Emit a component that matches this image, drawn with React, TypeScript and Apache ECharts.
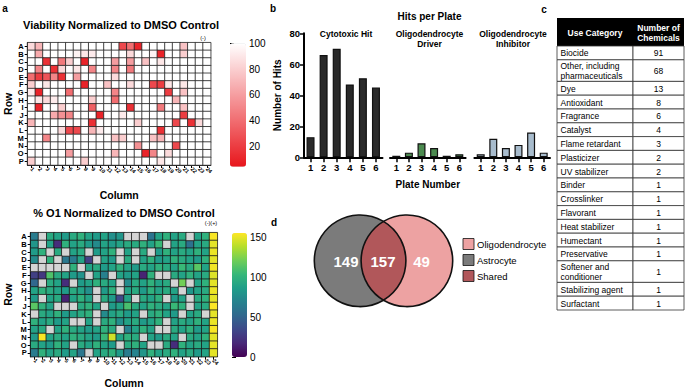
import React, { useEffect, useRef } from 'react';
import * as echarts from 'echarts';

const FONT = '"Liberation Sans", Arial, Helvetica, sans-serif';

// ---------- panel a : plate heatmaps ----------
const rowLabels = ['A', 'B', 'C', 'D', 'E', 'F', 'G', 'H', 'I', 'J', 'K', 'L', 'M', 'N', 'O', 'P'];
const columnLabels = ['1', '2', '3', '4', '5', '6', '7', '8', '9', '10', '11', '12', '13', '14', '15', '16', '17', '18', '19', '20', '21', '22', '23', '24'];

const viability = [
  [85, 70, 100, 100, 100, 100, 100, 100, 100, 100, 100, 100, 25, 40, 10, 100, 100, 100, 100, 100, 75, 100, 100, 100],
  [100, 65, 100, 100, 100, 100, 95, 90, 92, 100, 100, 100, 100, 85, 100, 100, 95, 10, 100, 100, 80, 100, 100, 100],
  [100, 100, 15, 100, 45, 80, 100, 10, 100, 100, 100, 60, 100, 60, 100, 75, 100, 90, 100, 100, 100, 100, 100, 100],
  [100, 50, 100, 15, 85, 100, 90, 100, 50, 100, 100, 50, 100, 45, 100, 100, 100, 100, 100, 100, 100, 100, 100, 100],
  [40, 20, 30, 50, 15, 100, 60, 100, 100, 100, 100, 85, 100, 100, 100, 100, 100, 100, 100, 100, 100, 100, 100, 100],
  [80, 100, 90, 100, 100, 100, 100, 10, 100, 100, 75, 100, 100, 85, 100, 100, 25, 20, 90, 100, 90, 100, 100, 100],
  [92, 10, 100, 100, 100, 40, 100, 100, 100, 100, 100, 50, 100, 100, 100, 100, 100, 100, 20, 100, 75, 100, 100, 100],
  [100, 90, 85, 92, 100, 100, 100, 100, 80, 100, 100, 40, 100, 100, 100, 100, 100, 100, 100, 70, 100, 100, 100, 100],
  [100, 10, 100, 100, 80, 100, 100, 100, 35, 100, 100, 100, 100, 15, 100, 100, 100, 45, 100, 100, 75, 100, 100, 100],
  [100, 100, 100, 65, 55, 50, 100, 100, 100, 10, 100, 100, 92, 100, 100, 100, 100, 100, 100, 100, 20, 100, 100, 100],
  [70, 100, 100, 100, 100, 100, 100, 100, 15, 100, 100, 100, 100, 100, 80, 100, 100, 100, 100, 25, 100, 15, 85, 100],
  [100, 100, 100, 100, 85, 25, 25, 100, 70, 92, 100, 100, 100, 100, 100, 100, 100, 15, 100, 100, 100, 100, 100, 100],
  [100, 100, 50, 100, 100, 100, 100, 100, 100, 100, 100, 75, 80, 100, 100, 100, 75, 70, 100, 100, 100, 100, 100, 100],
  [100, 100, 100, 100, 100, 100, 100, 100, 100, 100, 100, 100, 100, 100, 55, 100, 100, 100, 100, 25, 100, 100, 100, 100],
  [100, 100, 100, 100, 100, 60, 100, 100, 100, 100, 100, 70, 100, 100, 100, 10, 50, 100, 85, 100, 100, 100, 100, 100],
  [80, 100, 100, 100, 100, 100, 100, 80, 100, 100, 100, 100, 100, 100, 100, 100, 100, 90, 100, 100, 100, 100, 100, 100],
];

const o1Percent = [
  [65, null, 95, 90, 85, 95, 100, 90, 85, 90, 78, 82, null, null, null, 60, 90, 100, 90, 95, null, 90, 100, 155],
  [82, null, 90, 20, 100, 90, 95, 85, 75, 90, 85, 90, 95, 95, 100, 90, 105, null, 90, 95, 58, 90, 95, 150],
  [85, 100, null, 95, null, 90, 95, null, 85, 90, 100, null, 90, null, 95, null, 85, 100, 90, 95, 90, 100, 90, 152],
  [75, null, 100, null, 62, 66, 90, 30, null, 90, 85, null, 95, null, 90, 100, 85, 90, 100, 95, 90, 85, 100, 150],
  [null, null, null, null, null, 100, null, 90, 95, 85, 90, 100, 90, 85, 95, 90, 100, 95, 90, 105, 95, 115, 90, 153],
  [30, 25, 112, 95, 90, 85, 80, null, 90, 68, null, 90, 85, 90, 15, 100, null, null, 95, 90, 100, 90, 95, 148],
  [52, null, 95, 90, 20, null, 85, 90, 100, 95, 90, null, 75, 95, 90, 100, 90, 95, null, 122, null, 90, 100, 150],
  [90, 100, 95, 90, 85, 95, 90, 78, null, 85, 100, null, 90, 95, 85, 100, 90, 95, 90, null, 82, 90, 95, 152],
  [85, null, 90, 95, 15, 90, 100, 90, null, 95, 85, 35, 90, null, 95, 90, 100, null, 85, 90, null, 95, 100, 150],
  [115, 100, 90, null, null, null, 95, 100, 90, null, 85, 90, 110, 95, 90, 100, 95, 90, 105, 100, null, 90, 95, 158],
  [null, 95, 90, 100, 85, 90, 95, 100, null, 75, 90, 95, 85, 90, null, 95, 100, 90, 85, null, 90, 95, null, 150],
  [100, 90, 95, 85, 90, null, null, 90, null, 95, 100, 78, 90, 95, 85, 90, 100, null, 90, 95, 90, 100, 90, 152],
  [90, 95, null, 90, 100, 95, 90, 85, 90, 100, 95, null, 70, 90, 100, 90, null, null, 95, 90, 100, 85, 90, 155],
  [85, 155, 90, 95, 90, 100, 95, 90, 85, 105, 145, 90, 100, 95, null, 90, 85, 95, 90, null, 95, 90, 100, 150],
  [95, 90, 85, 100, 90, null, 95, 90, 100, 90, 85, null, 95, 100, 90, null, null, 95, 20, 100, 90, 95, 90, 150],
  [65, 100, 90, 95, 85, 90, 62, null, 90, 95, 100, 85, 65, 70, 82, 100, 90, 95, 100, 90, 95, 85, 90, 150],
];

const viabilityTicks = [20, 40, 60, 80, 100];
const o1Ticks = [0, 50, 100, 150];

// ---------- panel b : hits per plate ----------
const plateNumbers = ['1', '2', '3', '4', '5', '6'];
const cytotoxicHits = [13, 66, 70, 47, 51, 45];
const driverHits = [1, 3, 9, 6, 1, 2];
const inhibitorHits = [2, 12, 6, 8, 16, 3];

// ---------- panel c : table ----------
const useCategories = [
  'Biocide', 'Other, including\npharmaceuticals', 'Dye', 'Antioxidant', 'Fragrance', 'Catalyst',
  'Flame retardant', 'Plasticizer', 'UV stabilizer', 'Binder', 'Crosslinker', 'Flavorant',
  'Heat stabilizer', 'Humectant', 'Preservative', 'Softener and\nconditioner', 'Stabilizing agent', 'Surfactant',
];
const chemicalCounts = [91, 68, 13, 8, 6, 4, 3, 2, 2, 1, 1, 1, 1, 1, 1, 1, 1, 1];

// ---------- panel d : venn ----------
const vennLegend = ['Oligodendrocyte', 'Astrocyte', 'Shared'];
const vennColors = ['#eda2a2', '#7b7b7b', '#b1575a'];
const vennCounts = [149, 157, 49]; // astrocyte only, shared, oligodendrocyte only

// venn geometry (layout)
const VR = 45.8, VCY = 260.8, VCX1 = 360.1, VCX2 = 406.9;
const lensX = (VCX1 + VCX2) / 2;
const lensH = Math.sqrt(VR * VR - ((VCX2 - VCX1) / 2) ** 2);
const lensD = `M${lensX} ${VCY - lensH} A${VR} ${VR} 0 0 1 ${lensX} ${VCY + lensH} A${VR} ${VR} 0 0 1 ${lensX} ${VCY - lensH} Z`;
echarts.graphic.registerShape('vennLens', echarts.graphic.extendPath(lensD, {}));

const VIRIDIS = ['#440154', '#482878', '#3e4989', '#31688e', '#26828e', '#1f9e89', '#35b779', '#6ece58', '#b5de2b', '#fde725'];

function txt(text: string, x: number, y: number, o: any = {}) {
  return {
    type: 'text', x, y, rotation: o.rot || 0, silent: true, z: o.z || 20,
    style: {
      text, fontFamily: FONT, fontSize: o.size || 10, fontWeight: o.weight || 'normal',
      fill: o.color || '#000', align: o.align || 'center', verticalAlign: o.va || 'middle',
      lineHeight: o.lh,
    },
  };
}

export default function App() {
  const ref = useRef<HTMLDivElement>(null);
  useEffect(() => {
    if (!ref.current) return;
    const chart = echarts.init(ref.current, null, { renderer: 'svg' });

    const viabData: any[] = [];
    viability.forEach((row, r) => row.forEach((v, c) => viabData.push([c, r, v])));
    const o1Data: any[] = [];
    const grayData: any[] = [];
    o1Percent.forEach((row, r) => row.forEach((v, c) => {
      if (v === null) grayData.push([c, r, 0]);
      else o1Data.push([c, r, v]);
    }));

    const heatX = (gridIndex: number) => ({
      type: 'category', gridIndex, data: columnLabels, position: 'bottom',
      name: 'Column', nameLocation: 'middle', nameGap: gridIndex === 0 ? 24 : 21,
      nameTextStyle: { fontFamily: FONT, fontSize: 10.5, fontWeight: 'bold', color: '#000' },
      axisLine: { show: true, lineStyle: { color: '#000', width: 1.2 } },
      axisTick: { show: true, alignWithLabel: true, length: 3, lineStyle: { color: '#000', width: 1 } },
      axisLabel: { interval: 0, rotate: -45, fontSize: 5.5, fontWeight: 'bold', margin: 3, color: '#000', fontFamily: FONT },
      splitLine: { show: false },
    });
    const heatY = (gridIndex: number) => ({
      type: 'category', gridIndex, data: rowLabels, inverse: true,
      name: 'Row', nameLocation: 'middle', nameGap: gridIndex === 0 ? 14 : 17,
      nameTextStyle: { fontFamily: FONT, fontSize: 10.5, fontWeight: 'bold', color: '#000' },
      axisLine: { show: true, lineStyle: { color: '#000', width: 1.2 } },
      axisTick: { show: true, alignWithLabel: true, length: 3, lineStyle: { color: '#000', width: 1 } },
      axisLabel: { interval: 0, fontSize: 7.5, fontWeight: 'bold', margin: 4, color: '#000', fontFamily: FONT },
      splitLine: { show: false },
    });
    const barX = (gridIndex: number, extra: any = {}) => ({
      type: 'category', gridIndex, data: plateNumbers,
      axisLine: { show: true, lineStyle: { color: '#000', width: 2 } },
      axisTick: { show: true, alignWithLabel: true, length: 5, lineStyle: { color: '#000', width: 1.5 } },
      axisLabel: { fontSize: 9.5, fontWeight: 'bold', margin: 5, color: '#000', fontFamily: FONT },
      ...extra,
    });
    const barY = (gridIndex: number, show: boolean) => ({
      type: 'value', gridIndex, min: 0, max: 80, interval: 20, show,
      name: show ? 'Number of Hits' : '', nameLocation: 'middle', nameGap: 22,
      nameTextStyle: { fontFamily: FONT, fontSize: 10, fontWeight: 'bold', color: '#000' },
      axisLine: { show: true, lineStyle: { color: '#000', width: 2 } },
      axisTick: { show: true, length: 4, lineStyle: { color: '#000', width: 1.5 } },
      axisLabel: { fontSize: 9.5, fontWeight: 'bold', margin: 4, color: '#000', fontFamily: FONT },
      splitLine: { show: false },
    });
    const barSeries = (idx: number, data: number[], color: string) => ({
      type: 'bar', xAxisIndex: idx, yAxisIndex: idx, data, barWidth: 8,
      itemStyle: { color, borderColor: '#111', borderWidth: 1.2 },
      silent: true,
    });

    const graphic: any[] = [];
    // panel letters
    graphic.push(txt('a', 5, 8, { size: 10, weight: 'bold' }));
    graphic.push(txt('b', 273, 8, { size: 10, weight: 'bold' }));
    graphic.push(txt('c', 544, 9, { size: 10, weight: 'bold' }));
    graphic.push(txt('d', 274, 222, { size: 10, weight: 'bold' }));
    // heatmap titles
    graphic.push(txt('Viability Normalized to DMSO Control', 121, 25, { size: 11, weight: 'bold' }));
    graphic.push(txt('(-)', 203, 38, { size: 5.5 }));
    graphic.push(txt('% O1 Normalized to DMSO Control', 124, 213, { size: 11, weight: 'bold' }));
    graphic.push(txt('(-)(+)', 211, 223, { size: 5.5 }));
    // bar titles
    graphic.push(txt('Hits per Plate', 429.5, 16, { size: 10, weight: 'bold' }));
    graphic.push(txt('Cytotoxic Hit', 346, 34, { size: 8.5, weight: 'bold' }));
    graphic.push(txt('Oligodendrocyte\nDriver', 429.5, 39, { size: 8.5, weight: 'bold', lh: 10.5 }));
    graphic.push(txt('Oligodendrocyte\nInhibitor', 513, 39, { size: 8.5, weight: 'bold', lh: 10.5 }));

    // table
    const TL = 557, TM = 633, TR = 684;
    graphic.push({ type: 'rect', shape: { x: TL, y: 18, width: TR - TL, height: 28 }, style: { fill: '#000' }, z: 15, silent: true });
    graphic.push(txt('Use Category', (TL + TM) / 2, 32.5, { size: 8.5, weight: 'bold', color: '#fff' }));
    graphic.push(txt('Number of\nChemicals', (TM + TR) / 2, 32.5, { size: 8.5, weight: 'bold', color: '#fff', lh: 10 }));
    let ty = 46;
    useCategories.forEach((name, i) => {
      const h = name.includes('\n') ? 21.6 : 13.8;
      graphic.push({ type: 'rect', shape: { x: TL, y: ty, width: TM - TL, height: h }, style: { fill: '#fff', stroke: '#333', lineWidth: 0.8 }, z: 15, silent: true });
      graphic.push({ type: 'rect', shape: { x: TM, y: ty, width: TR - TM, height: h }, style: { fill: '#fff', stroke: '#333', lineWidth: 0.8 }, z: 15, silent: true });
      graphic.push(txt(name, TL + 3.5, ty + h / 2 + 0.5, { size: 8.5, align: 'left', lh: 9.5 }));
      graphic.push(txt(String(chemicalCounts[i]), (TM + TR) / 2, ty + h / 2 + 0.5, { size: 8.5 }));
      ty += h;
    });

    // venn
    graphic.push({ type: 'circle', shape: { cx: VCX1, cy: VCY, r: VR }, style: { fill: vennColors[1] }, z: 10, silent: true });
    graphic.push({ type: 'circle', shape: { cx: VCX2, cy: VCY, r: VR }, style: { fill: vennColors[0] }, z: 10, silent: true });
    graphic.push({ type: 'vennLens', x: 0, y: 0, scaleX: 1, scaleY: 1, style: { fill: vennColors[2] }, z: 11, silent: true });
    graphic.push({ type: 'circle', shape: { cx: VCX1, cy: VCY, r: VR }, style: { fill: 'none', stroke: '#111', lineWidth: 1.6 }, z: 12, silent: true });
    graphic.push({ type: 'circle', shape: { cx: VCX2, cy: VCY, r: VR }, style: { fill: 'none', stroke: '#111', lineWidth: 1.6 }, z: 12, silent: true });
    graphic.push(txt(String(vennCounts[0]), 346, 261, { size: 15, weight: 'bold', color: '#fff', z: 13 }));
    graphic.push(txt(String(vennCounts[1]), 383, 261, { size: 15, weight: 'bold', color: '#fff', z: 13 }));
    graphic.push(txt(String(vennCounts[2]), 421.5, 261, { size: 15, weight: 'bold', color: '#fff', z: 13 }));
    vennLegend.forEach((label, i) => {
      const cy = 244 + i * 16;
      graphic.push({ type: 'rect', shape: { x: 463, y: cy - 5.5, width: 11, height: 11 }, style: { fill: vennColors[i], stroke: '#111', lineWidth: 0.8 }, z: 12, silent: true });
      graphic.push(txt(label, 477, cy + 0.5, { size: 9.5, align: 'left' }));
    });

    const option: any = {
      animation: false,
      backgroundColor: '#fff',
      textStyle: { fontFamily: FONT },
      grid: [
        { left: 27.7, top: 42.7, width: 183, height: 122.3, outerBoundsMode: 'none' },
        { left: 30.7, top: 232.7, width: 186.6, height: 124, outerBoundsMode: 'none' },
        { left: 230, top: 43.3, width: 16, height: 123.4, outerBoundsMode: 'none' },
        { left: 232, top: 233, width: 15, height: 124, outerBoundsMode: 'none' },
        { left: 304, top: 33.3, width: 78.5, height: 124, outerBoundsMode: 'none' },
        { left: 390, top: 33.3, width: 75.6, height: 124, outerBoundsMode: 'none' },
        { left: 474.4, top: 33.3, width: 75.6, height: 124, outerBoundsMode: 'none' },
      ],
      xAxis: [
        heatX(0),
        heatX(1),
        { type: 'value', gridIndex: 2, show: false },
        { type: 'value', gridIndex: 3, show: false },
        barX(4),
        barX(5, {
          name: 'Plate Number', nameLocation: 'middle', nameGap: 22,
          nameTextStyle: { fontFamily: FONT, fontSize: 10, fontWeight: 'bold', color: '#000' },
        }),
        barX(6),
      ],
      yAxis: [
        heatY(0),
        heatY(1),
        {
          type: 'value', gridIndex: 2, position: 'right', min: 4.5, max: 100,
          axisLine: { show: false }, splitLine: { show: false },
          axisTick: { show: true, length: 4, customValues: viabilityTicks, lineStyle: { color: '#000', width: 1 } },
          axisLabel: { customValues: viabilityTicks, fontSize: 10, margin: 3, color: '#000', fontFamily: FONT },
        },
        {
          type: 'value', gridIndex: 3, position: 'right', min: 0, max: 156,
          axisLine: { show: false }, splitLine: { show: false },
          axisTick: { show: true, length: 4, customValues: o1Ticks, lineStyle: { color: '#000', width: 1 } },
          axisLabel: { customValues: o1Ticks, fontSize: 10, margin: 3, color: '#000', fontFamily: FONT },
        },
        barY(4, true),
        barY(5, false),
        barY(6, false),
      ],
      visualMap: [
        {
          type: 'continuous', seriesIndex: 0, min: 4.5, max: 100, calculable: false, hoverLink: false,
          inRange: { color: ['#e8161c', '#ffffff'] }, left: 230, top: 43.3, itemWidth: 16, itemHeight: 123.4, padding: 0,
        },
        {
          type: 'continuous', seriesIndex: 1, min: 0, max: 156, calculable: false, hoverLink: false,
          inRange: { color: VIRIDIS }, left: 232, top: 233, itemWidth: 15, itemHeight: 124, padding: 0,
        },
        {
          type: 'continuous', seriesIndex: 2, min: 0, max: 1, show: false,
          inRange: { color: ['#d4d4d4', '#d4d4d4'] },
        },
      ],
      series: [
        {
          type: 'heatmap', xAxisIndex: 0, yAxisIndex: 0, data: viabData, silent: true,
          itemStyle: { borderColor: '#222', borderWidth: 0.8 },
        },
        {
          type: 'heatmap', xAxisIndex: 1, yAxisIndex: 1, data: o1Data, silent: true,
          itemStyle: { borderColor: '#1a1a1a', borderWidth: 0.8 },
        },
        {
          type: 'heatmap', xAxisIndex: 1, yAxisIndex: 1, data: grayData, silent: true,
          itemStyle: { borderColor: '#1a1a1a', borderWidth: 0.8 },
        },
        barSeries(4, cytotoxicHits, '#2a2a2a'),
        barSeries(5, driverHits, '#4b8a4f'),
        barSeries(6, inhibitorHits, '#a8bccd'),
      ],
      graphic,
    };
    chart.setOption(option);
    return () => chart.dispose();
  }, []);
  return <div ref={ref} style={{ position: 'fixed', left: 0, top: 0, width: 685, height: 388, background: '#fff' }} />;
}
